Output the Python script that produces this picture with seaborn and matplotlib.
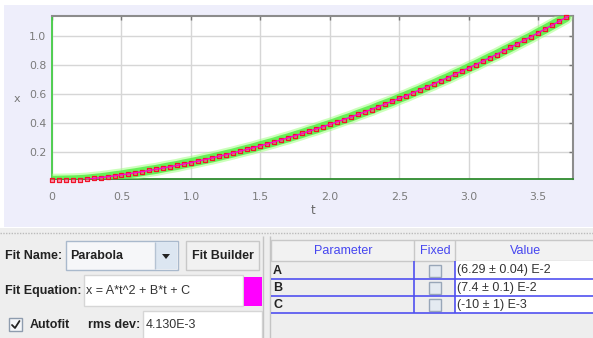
import numpy as np
import pandas as pd
import matplotlib
matplotlib.use("Agg")
import matplotlib.pyplot as plt
from matplotlib.patches import Rectangle, Polygon
import seaborn as sns

# ---- data -------------------------------------------------------------
frame_dt = 0.05  # s between video frames
x_data = [
    0.005, 0.006, 0.007, 0.008, 0.010, 0.013, 0.018, 0.023, 0.029, 0.036,
    0.042, 0.050, 0.057, 0.065, 0.073, 0.080, 0.090, 0.099, 0.107, 0.118,
    0.127, 0.137, 0.148, 0.158, 0.169, 0.181, 0.192, 0.205, 0.217, 0.229,
    0.243, 0.256, 0.269, 0.284, 0.297, 0.312, 0.327, 0.343, 0.357, 0.374,
    0.389, 0.406, 0.423, 0.439, 0.458, 0.475, 0.492, 0.512, 0.530, 0.548,
    0.569, 0.587, 0.608, 0.627, 0.649, 0.669, 0.691, 0.711, 0.734, 0.755,
    0.779, 0.800, 0.824, 0.848, 0.870, 0.895, 0.919, 0.944, 0.969, 0.993,
    1.020, 1.045, 1.072, 1.098, 1.125,
]
t_data = np.arange(len(x_data)) * frame_dt

# fitted parabola x = A*t^2 + B*t + C
param_names = ["A", "B", "C"]
param_values = [6.29e-2, 7.4e-2, -10e-3]
param_text = ["(6.29 \u00b1 0.04) E-2", "(7.4 \u00b1 0.1) E-2", "(-10 \u00b1 1) E-3"]
rms_dev = "4.130E-3"

x_ticks = [0, 0.5, 1.0, 1.5, 2.0, 2.5, 3.0, 3.5]
x_tick_labels = ["0", "0.5", "1.0", "1.5", "2.0", "2.5", "3.0", "3.5"]
y_ticks = [0.2, 0.4, 0.6, 0.8, 1.0]
y_tick_labels = ["0.2", "0.4", "0.6", "0.8", "1.0"]

# ---- figure -----------------------------------------------------------
sns.set_theme(style="white")
plt.rcParams["font.family"] = ["DejaVu Sans"]

W, H = 593, 338
fig = plt.figure(figsize=(W / 100, H / 100), dpi=100, facecolor="white")

# pixel-space canvas for panels and widgets
bg = fig.add_axes([0, 0, 1, 1], zorder=0)
bg.set_xlim(0, W)
bg.set_ylim(H, 0)
bg.axis("off")

def rect(x0, y0, x1, y1, fc, ec="none", lw=1.0, z=1):
    bg.add_patch(Rectangle((x0, y0), x1 - x0, y1 - y0, facecolor=fc,
                           edgecolor=ec, linewidth=lw, zorder=z))

def hline(y, x0, x1, color, lw=1.0, ls="-", z=2):
    bg.plot([x0, x1], [y, y], color=color, lw=lw, ls=ls, zorder=z,
            solid_capstyle="butt")

def vline(x, y0, y1, color, lw=1.0, z=2):
    bg.plot([x, x], [y0, y1], color=color, lw=lw, zorder=z,
            solid_capstyle="butt")

LAB = dict(family="Liberation Sans", fontsize=9, fontweight="bold",
           color="#222222", va="center", zorder=5)
TXT = dict(family="Liberation Sans", fontsize=9, color="#333333",
           va="center", zorder=5)

# plot panel background
rect(4, 5, W, 227, "#EEEEFB")
# lower control panel
rect(0, 228, W, H, "#EEEEEE")
hline(233, 0, W, "#BBBBBB", lw=1.0, ls=(0, (1, 1)))

# --- fit controls (left) ---
bg.text(5, 256, "Fit Name:", **LAB)
rect(66, 241, 178, 270, "#F6F7F9", "#A9B9CC", 1.0, z=2)
rect(155, 242, 177, 269, "#DCE6F1", "none", z=3)
vline(155, 242, 269, "#B5C3D3", z=3)
bg.text(70, 256, "Parabola", **LAB)
bg.add_patch(Polygon([[162, 254], [170, 254], [166, 259]], closed=True,
                     facecolor="#222222", edgecolor="none", zorder=4))
rect(186, 241, 259, 270, "#F1F1F1", "#C8C8C8", 1.0, z=2)
bg.text(222.5, 256, "Fit Builder", ha="center", **LAB)

bg.text(5, 291, "Fit Equation:", **LAB)
rect(84, 275, 243, 306, "white", "#D6D6D6", 1.0, z=2)
bg.text(86, 291, "x = A*t^2 + B*t + C", **TXT)
rect(244, 277, 262, 306, "#FF00FF", z=3)

rect(9, 318, 22, 331, "#F4F6F9", "#8E9CAE", 1.0, z=2)
bg.plot([12, 15, 19.5], [325, 328, 321], color="#222222", lw=1.3, zorder=4)
bg.text(30, 325, "Autofit", **LAB)
bg.text(88, 325, "rms dev:", **LAB)
rect(143, 311, 262, H + 2, "white", "#D6D6D6", 1.0, z=2)
bg.text(146, 325, rms_dev, **TXT)

# split-pane divider
vline(263, 236, H, "#C4C4C4")
vline(270, 236, H, "#C4C4C4")

# --- parameter table (right) ---
rect(271, 240, W + 2, 261, "#F2F2F2", "#C8C8C8", 1.0, z=2)
vline(414, 240, 261, "#C8C8C8", z=3)
vline(455, 240, 261, "#C8C8C8", z=3)
HDR = dict(family="Liberation Sans", fontsize=9, color="#4646F0",
           va="center", ha="center", zorder=5)
bg.text(343, 251, "Parameter", **HDR)
bg.text(435, 251, "Fixed", **HDR)
bg.text(526, 251, "Value", **HDR)

rect(455, 261, W + 2, 313, "white", z=2)
row_tops = [261, 279, 296]
row_bots = [279, 296, 313]
for name, txt, y0, y1 in zip(param_names, param_text, row_tops, row_bots):
    yc = (y0 + y1) / 2 + 0.5
    hline(y1, 271, W, "#5050F0", lw=1.2, z=4)
    bg.text(273, yc, name, **LAB)
    rect(428.5, yc - 6, 441, yc + 6, "#E4EAF1", "#98A6B8", 1.0, z=3)
    bg.text(457, yc, txt, **TXT)
vline(414, 261, 313, "#5050F0", lw=1.2, z=4)
vline(455, 261, 313, "#5050F0", lw=1.2, z=4)

# axis titles
bg.text(17, 99, "x", fontsize=8, color="#777777", ha="center", va="center")
bg.text(313, 211, "t", fontsize=8.5, color="#666666", ha="center", va="center")

# ---- plot area --------------------------------------------------------
L, R, T, B = 52, 573, 16, 179.3
ax = fig.add_axes([L / W, 1 - B / H, (R - L) / W, (B - T) / H], zorder=2)
ax.set_facecolor("white")

df = pd.DataFrame({"t": t_data, "x": x_data})
t_fit = np.linspace(0, 3.75, 200)
A, Bc, C = param_values
fit_df = pd.DataFrame({"t": t_fit, "x": A * t_fit ** 2 + Bc * t_fit + C})

# green highlight band along the track
sns.lineplot(data=df, x="t", y="x", ax=ax, color="#99FF77", lw=9.5,
             alpha=0.5, zorder=3)
sns.lineplot(data=df, x="t", y="x", ax=ax, color="#55EE44", lw=6.5,
             alpha=0.85, zorder=3)
# tracked positions
sns.scatterplot(data=df, x="t", y="x", ax=ax, marker="s", s=11,
                facecolor=(1.0, 0.35, 0.5, 0.55), edgecolor="#F01428",
                linewidth=0.9, zorder=4, clip_on=False)
# fit curve
sns.lineplot(data=fit_df, x="t", y="x", ax=ax, color="#FF00CC", lw=1.0,
             zorder=5)

ax.set_xlim(0, 3.75)
ax.set_ylim(0.012, 1.135)
ax.set_xticks(x_ticks)
ax.set_xticklabels(x_tick_labels)
ax.set_yticks(y_ticks)
ax.set_yticklabels(y_tick_labels)
ax.set_xlabel("")
ax.set_ylabel("")
ax.grid(True, color="#D6D6D6", lw=1.0)
ax.set_axisbelow(True)
ax.tick_params(direction="in", length=3, width=1, color="#777777",
               top=True, right=True, labelsize=7.8, labelcolor="#7A7A7A")
ax.tick_params(axis="x", pad=9)
ax.tick_params(axis="y", pad=4)

for side in ("top", "right"):
    ax.spines[side].set_color("#8C8C8C")
    ax.spines[side].set_linewidth(1.5)
ax.spines["left"].set_color("#44CC44")
ax.spines["left"].set_linewidth(1.3)
ax.spines["bottom"].set_color("#2E8B2E")
ax.spines["bottom"].set_linewidth(1.3)

fig.savefig("out.png", dpi=100, facecolor="white")
